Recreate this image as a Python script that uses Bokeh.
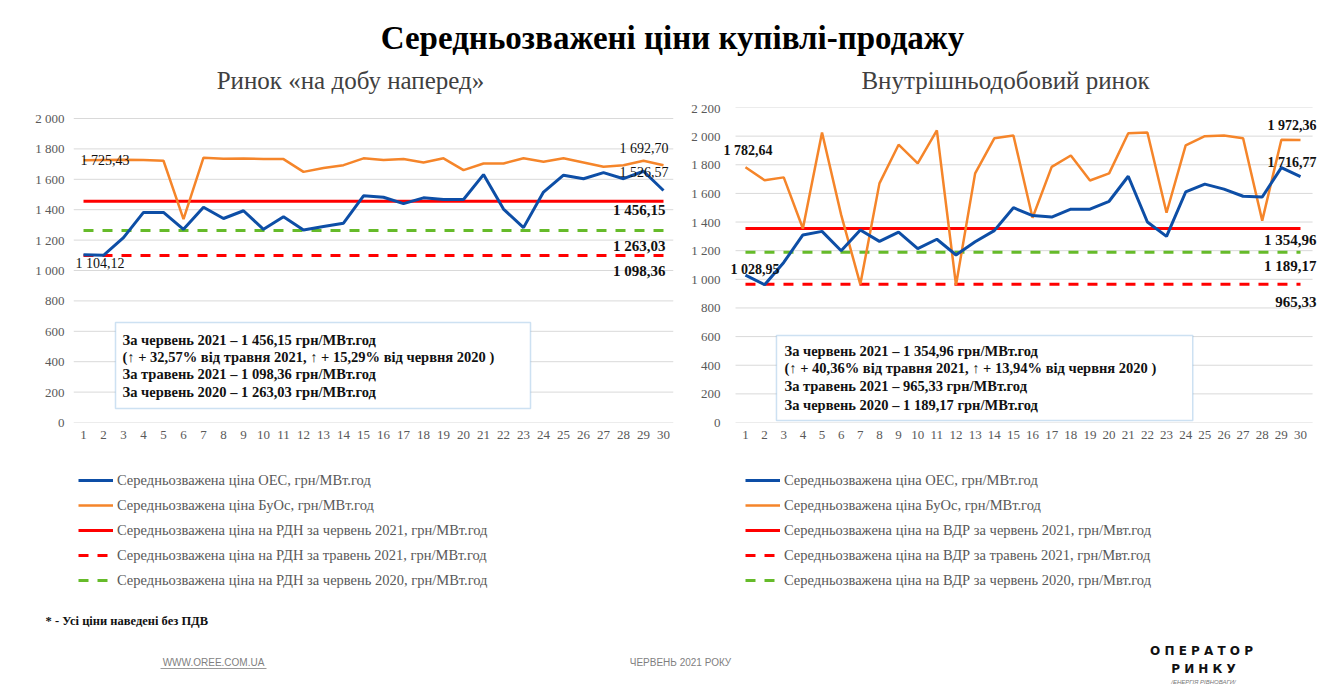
from bokeh.plotting import figure
from bokeh.layouts import column, row
from bokeh.models import (Label, BoxAnnotation, Legend, LegendItem, FixedTicker,
                          Range1d, ColumnDataSource)
from bokeh.embed import file_html
from bokeh.resources import INLINE

# ---------------- data ----------------
days = list(range(1, 31))

# Ринок «на добу наперед» (РДН)
dan_oes = [1104.12, 1100, 1216, 1382, 1382, 1271, 1416, 1342, 1393, 1271,
           1353, 1267, 1289, 1311, 1491, 1482, 1440, 1478, 1467, 1467,
           1631, 1404, 1282, 1516, 1627, 1604, 1644, 1604, 1653, 1526.57]
dan_buos = [1725.43, 1727, 1728, 1727, 1722, 1338, 1742, 1735, 1737, 1733,
            1733, 1649, 1675, 1693, 1738, 1727, 1733, 1711, 1738, 1660,
            1704, 1704, 1738, 1716, 1738, 1711, 1682, 1693, 1722, 1692.70]
dan_jun21 = 1456.15
dan_may21 = 1098.36
dan_jun20 = 1263.03

# Внутрішньодобовий ринок (ВДР)
vdr_oes = [1028.95, 962, 1118, 1310, 1335, 1200, 1345, 1265, 1330, 1215,
           1280, 1170, 1262, 1340, 1500, 1445, 1435, 1490, 1490, 1545,
           1720, 1400, 1300, 1610, 1665, 1630, 1580, 1575, 1780, 1716.77]
vdr_buos = [1782.64, 1692, 1712, 1355, 2025, 1450, 965, 1670, 1940, 1810,
            2040, 960, 1740, 1985, 2005, 1430, 1785, 1865, 1690, 1740,
            2020, 2025, 1465, 1935, 2000, 2005, 1985, 1410, 1975, 1972.36]
vdr_jun21 = 1354.96
vdr_may21 = 965.33
vdr_jun20 = 1189.17

main_title = "Середньозважені ціни купівлі-продажу"
sub_left = "Ринок «на добу наперед»"
sub_right = "Внутрішньодобовий ринок"

leg_left = ["Середньозважена ціна ОЕС, грн/МВт.год",
            "Середньозважена ціна БуОс, грн/МВт.год",
            "Середньозважена ціна на РДН за червень 2021, грн/МВт.год",
            "Середньозважена ціна на РДН за травень 2021, грн/МВт.год",
            "Середньозважена ціна на РДН за червень 2020, грн/МВт.год"]
leg_right = ["Середньозважена ціна ОЕС, грн/МВт.год",
             "Середньозважена ціна БуОс, грн/МВт.год",
             "Середньозважена ціна на ВДР за червень 2021, грн/Мвт.год",
             "Середньозважена ціна на ВДР за травень 2021, грн/Мвт.год",
             "Середньозважена ціна на ВДР за червень 2020, грн/Мвт.год"]

box_left = ["За червень 2021 – 1 456,15 грн/МВт.год",
            "(↑ + 32,57% від травня 2021, ↑ + 15,29% від червня 2020 )",
            "За травень 2021 – 1 098,36 грн/МВт.год",
            "За червень 2020 – 1 263,03 грн/МВт.год"]
box_right = ["За червень 2021 – 1 354,96 грн/МВт.год",
             "(↑ +  40,36% від травня 2021, ↑ + 13,94% від червня 2020 )",
             "За травень 2021 – 965,33 грн/МВт.год",
             "За червень 2020 – 1 189,17  грн/МВт.год"]

# ---------------- style ----------------
SERIF = "Liberation Serif"
SANS = "Liberation Sans"
BLUE = "#0d4ea6"
ORANGE = "#f5852a"
RED = "#ff0000"
GREEN = "#66bb2a"
GREY = "#595959"
DASH = "10 9"

STYLES = [dict(line_color=BLUE, line_width=3),
          dict(line_color=ORANGE, line_width=2.5),
          dict(line_color=RED, line_width=3),
          dict(line_color=RED, line_width=3, line_dash=DASH),
          dict(line_color=GREEN, line_width=3, line_dash=DASH)]

FRAME_H = 315          # plot frame height in px (both charts)


def fmt(v):
    return f"{v:,.2f}".replace(",", " ").replace(".", ",")


def bare(width, height):
    f = figure(width=width, height=height, x_range=Range1d(0, width),
               y_range=Range1d(0, height), toolbar_location=None,
               output_backend="svg", min_border=0, x_axis_type=None,
               y_axis_type=None, outline_line_color=None)
    f.grid.visible = False
    return f


def make_chart(width, min_left, min_right, x_range, ymax, top_gap, oes, buos,
               ref_jun21, ref_may21, ref_jun20, box_lines, box_rect,
               box_offsets, box_text_dx, lab, ylab_standoff, grid_x):
    y_top = ymax * FRAME_H / (FRAME_H - top_gap)
    p = figure(width=width, height=7 + FRAME_H + 30,
               x_range=Range1d(*x_range), y_range=Range1d(0, y_top),
               toolbar_location=None, output_backend="svg",
               min_border_left=min_left, min_border_top=7,
               min_border_right=min_right, min_border_bottom=30,
               outline_line_color=None)
    p.grid.grid_line_color = None
    ticks = list(range(0, ymax + 1, 200))
    # horizontal grid lines limited to the category band
    p.segment(x0=[grid_x[0]] * len(ticks), x1=[grid_x[1]] * len(ticks),
              y0=ticks, y1=ticks, line_color="#d9d9d9", line_width=1)
    p.yaxis.ticker = FixedTicker(ticks=ticks)
    p.yaxis.major_label_overrides = {t: f"{t:,}".replace(",", " ")
                                     for t in ticks}
    p.xaxis.ticker = FixedTicker(ticks=days)
    for ax in (p.xaxis[0], p.yaxis[0]):
        ax.axis_line_color = None
        ax.major_tick_line_color = None
        ax.minor_tick_line_color = None
        ax.major_tick_out = 0
        ax.major_tick_in = 0
        ax.major_label_text_font = SERIF
        ax.major_label_text_font_size = "13px"
        ax.major_label_text_color = GREY
    p.yaxis.major_label_standoff = ylab_standoff
    p.xaxis.major_label_standoff = 8

    src = ColumnDataSource(dict(
        day=days, oes=oes, buos=buos,
        jun21=[ref_jun21] * len(days), may21=[ref_may21] * len(days),
        jun20=[ref_jun20] * len(days)))

    p.line("day", "jun20", source=src, **STYLES[4])
    p.line("day", "may21", source=src, **STYLES[3])
    p.line("day", "jun21", source=src, **STYLES[2])
    p.line("day", "buos", source=src, **STYLES[1])
    p.line("day", "oes", source=src, **STYLES[0])

    # text box
    bl, br, bb, bt = box_rect
    p.add_layout(BoxAnnotation(left=bl, right=br, bottom=bb, top=bt,
                               fill_color="white", fill_alpha=1,
                               line_color="#5b9bd5", line_width=1.5))
    for txt, dy in zip(box_lines, box_offsets):
        p.add_layout(Label(x=bl, y=bt, x_offset=box_text_dx, y_offset=dy,
                           text=txt, text_baseline="middle",
                           text_font=SERIF, text_font_style="bold",
                           text_font_size="14.5px", text_color="#111111"))

    # value labels
    for (x, y, dx, dy, align, bold, size) in lab:
        p.add_layout(Label(x=x, y=y, x_offset=dx, y_offset=dy, text=fmt(y),
                           text_align=align, text_baseline="middle",
                           text_font=SERIF,
                           text_font_style="bold" if bold else "normal",
                           text_font_size=size, text_color="#111111"))
    return p


def make_legend(width, labels, x0):
    f = bare(width, 148)
    nan = float("nan")
    rends = [f.line(x=[nan], y=[nan], **st) for st in STYLES]
    items = [LegendItem(label=lab, renderers=[r])
             for lab, r in zip(labels, rends)]
    f.add_layout(Legend(items=items, location=(x0, 10), padding=0, margin=0,
                        spacing=5, label_height=20, glyph_height=20,
                        glyph_width=35, label_standoff=4,
                        label_text_font=SERIF, label_text_font_size="14.5px",
                        label_text_color=GREY, border_line_color=None,
                        background_fill_alpha=0))
    return f


left_labels = [
    (days[0], dan_buos[0], -3, 0, "left", False, "14px"),
    (days[0], dan_oes[0], -8, -9, "left", False, "14px"),
    (days[-1], dan_buos[-1], 5, 17, "right", False, "14px"),
    (days[-1], dan_oes[-1], 5, 18, "right", False, "14px"),
    (days[-1], dan_jun21, 2, -9, "right", True, "15px"),
    (days[-1], dan_jun20, 2, -15, "right", True, "15px"),
    (days[-1], dan_may21, 2, -15, "right", True, "15px"),
]
right_labels = [
    (days[0], vdr_buos[0], -22, 17, "left", True, "14px"),
    (days[0], vdr_oes[0], -15, 6, "left", True, "14px"),
    (days[-1], vdr_buos[-1], 16, 15, "right", True, "14px"),
    (days[-1], vdr_oes[-1], 16, 14, "right", True, "14px"),
    (days[-1], vdr_jun21, 16, -12, "right", True, "15px"),
    (days[-1], vdr_jun20, 16, -14, "right", True, "15px"),
    (days[-1], vdr_may21, 16, -18, "right", True, "15px"),
]

left = make_chart(688, 73, 15, (0.5, 30.5), 2000, 11, dan_oes, dan_buos,
                  dan_jun21, dan_may21, dan_jun20,
                  box_left, (2.6, 23.35, 92, 658), [-18, -35, -52, -70], 7,
                  left_labels, 9, (0.5, 30.5))
right = make_chart(632, 34, 2, (-0.148, 30.94), 2200, 0, vdr_oes, vdr_buos,
                   vdr_jun21, vdr_may21, vdr_jun20,
                   box_right, (2.62, 24.37, 14, 607), [-15, -32, -50, -69], 8,
                   right_labels, 3, (0.48, 30.63))

left_leg = make_legend(688, leg_left, 78)
right_leg = make_legend(632, leg_right, 57)

# ---------------- header ----------------
header = bare(1320, 100)
header.add_layout(Label(x=672, y=63, text=main_title, text_align="center",
                        text_baseline="middle", text_font=SERIF,
                        text_font_style="bold", text_font_size="33px",
                        text_color="#000000"))
header.add_layout(Label(x=350, y=20, text=sub_left, text_align="center",
                        text_baseline="middle", text_font=SERIF,
                        text_font_size="25px", text_color="#404040"))
header.add_layout(Label(x=1005, y=20, text=sub_right, text_align="center",
                        text_baseline="middle", text_font=SERIF,
                        text_font_size="25px", text_color="#404040"))

# ---------------- footer ----------------
footer = bare(1320, 90)
footer.add_layout(Label(x=45, y=70, text="* - Усі ціни наведені без ПДВ",
                        text_baseline="middle", text_font=SERIF,
                        text_font_style="bold", text_font_size="12.5px",
                        text_color="#111111"))
footer.add_layout(Label(x=213, y=28, text="WWW.OREE.COM.UA",
                        text_align="center", text_baseline="middle",
                        text_font=SANS, text_font_size="10px",
                        text_color="#7f7f7f"))
footer.segment(x0=[160], y0=[22], x1=[266], y1=[22], line_color="#9a9a9a",
               line_width=1)
footer.add_layout(Label(x=680, y=28, text="ЧЕРВЕНЬ 2021 РОКУ",
                        text_align="center", text_baseline="middle",
                        text_font=SANS, text_font_size="10px",
                        text_color="#7f7f7f"))
footer.add_layout(Label(x=1201, y=40, text="О П Е Р А Т О Р",
                        text_align="center", text_baseline="middle",
                        text_font="DejaVu Sans", text_font_style="bold",
                        text_font_size="12px", text_color="#111111"))
footer.add_layout(Label(x=1203, y=22, text="Р И Н К У",
                        text_align="center", text_baseline="middle",
                        text_font="DejaVu Sans", text_font_style="bold",
                        text_font_size="12px", text_color="#111111"))
footer.add_layout(Label(x=1203, y=9, text="/ЕНЕРГІЯ РІВНОВАГИ/",
                        text_align="center", text_baseline="middle",
                        text_font=SANS, text_font_style="italic",
                        text_font_size="6px", text_color="#777777"))

layout = column(header, row(left, right), row(left_leg, right_leg), footer)

with open("out.html", "w") as f:
    f.write(file_html(layout, INLINE))
